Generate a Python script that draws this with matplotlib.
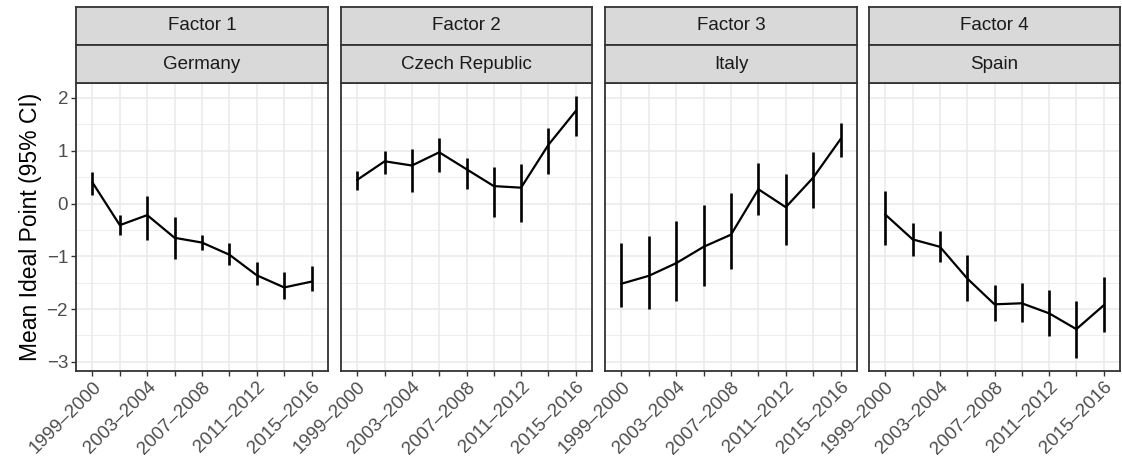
import matplotlib
matplotlib.use("Agg")
import matplotlib.pyplot as plt
import numpy as np

periods = ["1999–2000", "2001–2002", "2003–2004", "2005–2006", "2007–2008",
           "2009–2010", "2011–2012", "2013–2014", "2015–2016"]
factors = ["Factor 1", "Factor 2", "Factor 3", "Factor 4"]
countries = ["Germany", "Czech Republic", "Italy", "Spain"]

germany_mean = [0.40, -0.41, -0.22, -0.65, -0.74, -0.97, -1.36, -1.59, -1.48]
germany_hi = [0.59, -0.22, 0.15, -0.26, -0.59, -0.74, -1.11, -1.29, -1.18]
germany_lo = [0.16, -0.60, -0.69, -1.06, -0.89, -1.16, -1.54, -1.80, -1.66]

czech_mean = [0.45, 0.80, 0.72, 0.97, 0.65, 0.33, 0.30, 1.11, 1.75]
czech_hi = [0.61, 0.99, 1.03, 1.24, 0.87, 0.70, 0.74, 1.44, 2.03]
czech_lo = [0.25, 0.55, 0.21, 0.60, 0.28, -0.26, -0.35, 0.55, 1.27]

italy_mean = [-1.52, -1.37, -1.13, -0.82, -0.59, 0.27, -0.07, 0.49, 1.22]
italy_hi = [-0.74, -0.62, -0.34, -0.03, 0.20, 0.76, 0.56, 0.97, 1.53]
italy_lo = [-1.96, -1.99, -1.85, -1.56, -1.25, -0.22, -0.79, -0.08, 0.89]

spain_mean = [-0.21, -0.68, -0.82, -1.42, -1.91, -1.89, -2.08, -2.38, -1.93]
spain_hi = [0.24, -0.37, -0.52, -0.97, -1.54, -1.51, -1.63, -1.85, -1.39]
spain_lo = [-0.78, -0.99, -1.11, -1.84, -2.23, -2.24, -2.51, -2.92, -2.44]

means = [germany_mean, czech_mean, italy_mean, spain_mean]
his = [germany_hi, czech_hi, italy_hi, spain_hi]
los = [germany_lo, czech_lo, italy_lo, spain_lo]

W, H = 1122, 468
fig = plt.figure(figsize=(W / 100, H / 100), dpi=100)
plt.rcParams['font.family'] = ['Liberation Sans', 'DejaVu Sans']

panel_x = [(76, 328), (341, 592), (605, 857), (869, 1120)]
ptop, pbot = 83.3, 370.7
s1top, s1bot = 6.7, 45.0

def fr(x0, x1, ytop, ybot):
    return [x0 / W, 1 - ybot / H, (x1 - x0) / W, (ybot - ytop) / H]

grey20 = "#333333"
grey30 = "#4D4D4D"
grey92 = "#EBEBEB"
strip_fill = "#D9D9D9"

all_vals = np.concatenate([np.array(l) for l in los] + [np.array(h) for h in his])
lo_all, hi_all = all_vals.min(), all_vals.max()
pad = 0.05 * (hi_all - lo_all)
ylim = (lo_all - pad, hi_all + pad)

xs = np.arange(len(periods))
labels = [p if i % 2 == 0 else "" for i, p in enumerate(periods)]

for k in range(4):
    x0, x1 = panel_x[k]
    ax = fig.add_axes(fr(x0, x1, ptop, pbot))
    ax.set_xlim(-0.6, len(periods) - 1 + 0.6)
    ax.set_ylim(*ylim)
    ax.set_yticks([-3, -2, -1, 0, 1, 2])
    ax.set_yticks([-2.5, -1.5, -0.5, 0.5, 1.5], minor=True)
    ax.set_xticks(xs)
    ax.grid(True, which="major", color=grey92, linewidth=1.2, zorder=0)
    ax.grid(True, which="minor", axis="y", color=grey92, linewidth=0.6, zorder=0)
    ax.set_axisbelow(True)
    ax.tick_params(which="minor", length=0)
    ax.tick_params(which="major", length=3.7, width=1.0, color=grey20,
                   labelsize=13.5, labelcolor=grey30, pad=2)
    ax.set_xticklabels(labels, rotation=45, ha="right", rotation_mode="anchor")
    if k > 0:
        ax.tick_params(axis="y", length=0, labelleft=False)
    for sp in ax.spines.values():
        sp.set_color(grey20)
        sp.set_linewidth(1.3)
    ax.plot(xs, means[k], color="black", linewidth=1.6, zorder=3)
    ax.vlines(xs, los[k], his[k], color="black", linewidth=1.9, zorder=3)
    if k == 0:
        ax.set_ylabel("Mean Ideal Point (95% CI)", fontsize=16.5, color="black", labelpad=3)

    for (yt, yb, txt) in [(s1top, s1bot, factors[k]), (s1bot, ptop, countries[k])]:
        sax = fig.add_axes(fr(x0, x1, yt, yb))
        sax.set_facecolor(strip_fill)
        sax.set_xticks([])
        sax.set_yticks([])
        for sp in sax.spines.values():
            sp.set_color(grey20)
            sp.set_linewidth(1.3)
        sax.text(0.5, 0.5, txt, ha="center", va="center", fontsize=13.5,
                 color="#1A1A1A", transform=sax.transAxes)

fig.savefig("out.png", dpi=100)
